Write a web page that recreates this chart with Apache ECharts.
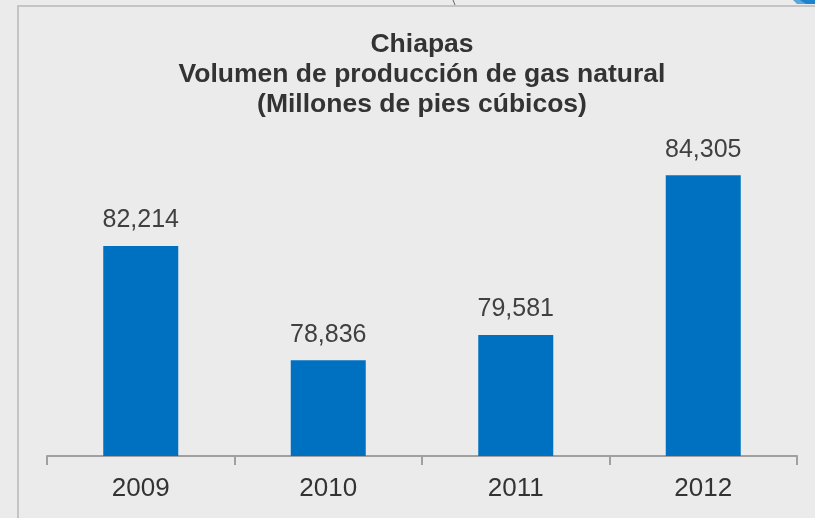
<!DOCTYPE html>
<html><head><meta charset="utf-8">
<script src="https://cdn.jsdelivr.net/npm/echarts@6/dist/echarts.min.js"></script>
<style>html,body{margin:0;padding:0;background:#ebebeb}#c{width:815px;height:518px}</style>
</head><body><div id="c"></div>
<script>
const categories = ['2009', '2010', '2011', '2012'];
const values = [82214, 78836, 79581, 84305];
const titleLines = ['Chiapas', 'Volumen de producción de gas natural', '(Millones de pies cúbicos)'];

const chart = echarts.init(document.getElementById('c'), null, {renderer: 'canvas'});
chart.setOption({
  backgroundColor: '#ebebeb',
  animation: false,
  title: {
    text: titleLines.join('\n'),
    left: 417, top: 25, textAlign: 'center',
    textStyle: {fontFamily: 'Liberation Sans, Arial', fontSize: 26.5, fontWeight: 'bold', color: '#333333', lineHeight: 30}
  },
  graphic: [
    {type: 'rect', shape: {x: 18, y: 6, width: 900, height: 600}, style: {fill: 'none', stroke: '#c4c4c4', lineWidth: 2}, z: -1},
    {type: 'line', shape: {x1: 453, y1: 0, x2: 455, y2: 5}, style: {stroke: '#666', lineWidth: 1}},
    {type: 'polygon', shape: {points: [[793, 0], [815, 0], [815, 4], [797, 4]]}, style: {fill: '#5aa7dc'}},
    {type: 'polygon', shape: {points: [[800, 0], [815, 0], [815, 4], [806, 4]]}, style: {fill: '#1f82cc'}}
  ],
  grid: {left: 47, right: 18, top: 118, bottom: 62},
  xAxis: {
    type: 'category', data: categories,
    axisLine: {lineStyle: {color: '#a0a0a0', width: 2}},
    axisTick: {show: true, length: 9, lineStyle: {color: '#a0a0a0', width: 2}},
    axisLabel: {fontFamily: 'Liberation Sans, Arial', fontSize: 26, color: '#333333', margin: 20}
  },
  yAxis: {type: 'value', min: 76000, max: 86000, show: false, splitLine: {show: false}},
  series: [{
    type: 'bar', data: values, barWidth: 75,
    itemStyle: {color: '#0070c0'},
    label: {show: true, position: 'top', distance: 13, fontFamily: 'Liberation Sans, Arial', fontSize: 25, color: '#404040',
      formatter: p => p.value.toLocaleString('en-US')}
  }]
});
</script></body></html>
